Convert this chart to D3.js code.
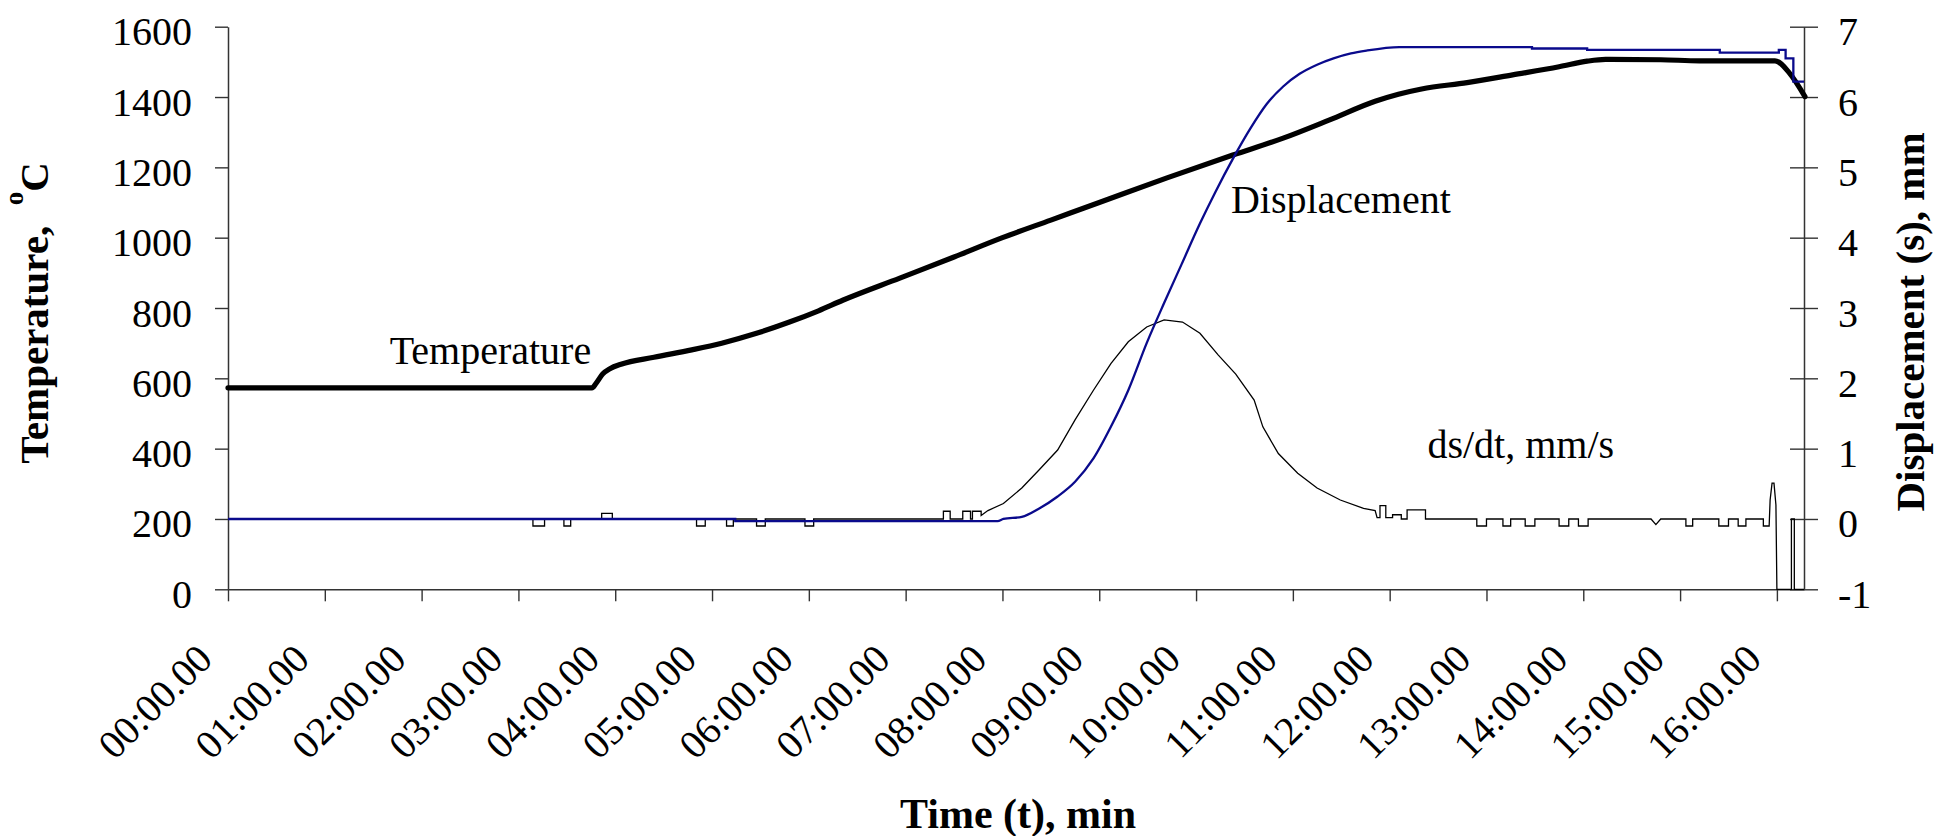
<!DOCTYPE html>
<html>
<head>
<meta charset="utf-8">
<script src="https://cdn.jsdelivr.net/npm/d3@7/dist/d3.min.js"></script>
<style>
  html, body { margin: 0; padding: 0; background: #fff; }
  svg { display: block; }
  text { font-family: "Liberation Serif", "Times New Roman", serif; fill: #000; }
</style>
</head>
<body>
<svg id="chart" width="1939" height="836"></svg>
<script>
// ---------------- data (time in minutes) ----------------
const timeTickValues = [0,1,2,3,4,5,6,7,8,9,10,11,12,13,14,15,16];
const timeTickLabels = ["00:00.00","01:00.00","02:00.00","03:00.00","04:00.00","05:00.00",
  "06:00.00","07:00.00","08:00.00","09:00.00","10:00.00","11:00.00","12:00.00",
  "13:00.00","14:00.00","15:00.00","16:00.00"];
const tempTicks = [0,200,400,600,800,1000,1200,1400,1600];
const dispTicks = [-1,0,1,2,3,4,5,6,7];

// Temperature, °C (left axis)
const tempTime  = [0, 3.76, 3.80, 3.87, 3.95, 4.06, 4.40, 4.79, 5.10, 5.46, 5.80, 6.10, 6.35, 6.94, 7.50,
  8.00, 8.50, 9.00, 9.70, 10.38, 10.90, 11.38, 11.85, 12.09, 12.33, 12.80, 13.27, 13.75,
  14.04, 14.23, 14.80, 15.20, 15.98, 16.13, 16.29];
const tempValue = [573, 573, 585, 612, 628, 640, 660, 681, 700, 728, 760, 792, 822, 885, 945,
  1000, 1050, 1100, 1170, 1235, 1283, 1335, 1388, 1408, 1423, 1441, 1463, 1486,
  1502, 1507, 1506, 1503, 1503, 1468, 1401];

// Displacement (s), mm (right axis)
const dispTime  = [0, 5.24, 5.24, 7.95, 8.01, 8.20, 8.38, 8.57, 8.75, 8.94, 9.12, 9.30, 9.49, 9.67, 9.85,
  10.04, 10.20, 10.38, 10.56, 10.73, 10.90, 11.07, 11.25, 11.42, 11.60, 11.76, 12.10,
  13.47, 13.47, 14.04, 14.04, 15.41, 15.41, 16.02, 16.02, 16.09, 16.09, 16.17, 16.17, 16.28];
const dispValue = [0, 0, -0.03, -0.03, 0, 0.03, 0.15, 0.32, 0.53, 0.86, 1.31, 1.83, 2.50, 3.07, 3.62,
  4.20, 4.65, 5.12, 5.55, 5.90, 6.15, 6.33, 6.46, 6.55, 6.62, 6.66, 6.71,
  6.71, 6.69, 6.69, 6.67, 6.67, 6.63, 6.63, 6.67, 6.67, 6.55, 6.55, 6.22, 6.22];

// ds/dt, mm/s (drawn against the right axis)
const rateTime  = [0, 3.15, 3.15, 3.27, 3.27, 3.47, 3.47, 3.54, 3.54, 3.86, 3.86, 3.97, 3.97,
  4.84, 4.84, 4.93, 4.93, 5.15, 5.15, 5.22, 5.22, 5.46, 5.46, 5.55, 5.55, 5.96, 5.96, 6.05, 6.05,
  7.39, 7.39, 7.46, 7.46, 7.59, 7.59, 7.67, 7.67, 7.69, 7.69, 7.78, 7.78,
  7.85, 8.01, 8.20, 8.38, 8.57, 8.75, 8.94, 9.12, 9.30, 9.49, 9.67, 9.86, 10.04, 10.23, 10.41, 10.60,
  10.69, 10.85, 11.05, 11.25, 11.49, 11.73, 11.85, 11.87, 11.90, 11.90, 11.96, 11.96, 12.03, 12.03,
  12.12, 12.12, 12.18, 12.18, 12.37, 12.37,
  12.90, 12.90, 13.00, 13.00, 13.17, 13.17, 13.25, 13.25, 13.40, 13.40, 13.50, 13.50,
  13.75, 13.75, 13.85, 13.85, 13.95, 13.95, 14.05, 14.05, 14.70, 14.75, 14.80,
  15.06, 15.06, 15.13, 15.13, 15.40, 15.40, 15.50, 15.50, 15.60, 15.60, 15.68, 15.68,
  15.86, 15.86, 15.92, 15.93, 15.95, 15.97, 15.99, 16.00, 16.15, 16.15, 16.18, 16.18, 16.28];
const rateValue = [0, 0, -0.1, -0.1, 0, 0, -0.1, -0.1, 0, 0, 0.08, 0.08, 0,
  0, -0.1, -0.1, 0, 0, -0.1, -0.1, 0, 0, -0.1, -0.1, 0, 0, -0.1, -0.1, 0,
  0, 0.11, 0.11, 0, 0, 0.11, 0.11, 0, 0, 0.11, 0.11, 0.05,
  0.12, 0.22, 0.44, 0.70, 0.98, 1.41, 1.83, 2.21, 2.52, 2.73, 2.83, 2.80, 2.64, 2.33, 2.06, 1.69,
  1.31, 0.93, 0.65, 0.44, 0.27, 0.15, 0.12, 0.02, 0.02, 0.19, 0.19, 0.02, 0.02, 0.06,
  0.06, 0.0, 0.0, 0.13, 0.13, 0,
  0, -0.1, -0.1, 0, 0, -0.1, -0.1, 0, 0, -0.1, -0.1, 0,
  0, -0.1, -0.1, 0, 0, -0.1, -0.1, 0, 0, -0.08, 0,
  0, -0.1, -0.1, 0, 0, -0.1, -0.1, 0, 0, -0.1, -0.1, 0,
  0, -0.1, -0.1, 0.27, 0.51, 0.51, 0.2, -1, -1, 0, 0, -1, -1];

const curveLabels = [
  {text: "Temperature", t: 1.67, axis: "L", v: 640},
  {text: "Displacement", t: 10.36, axis: "R", v: 4.35},
  {text: "ds/dt, mm/s", t: 12.39, axis: "R", v: 0.87}
];

(function () {
// ---------------- layout ----------------
const svg = d3.select("#chart");
const mLeft = 228, mRight = 1804, mTop = 26.7, mBottom = 589.3;
const x  = d3.scaleLinear().domain([0, 16.28]).range([mLeft, mRight]);
const yL = d3.scaleLinear().domain([0, 1600]).range([mBottom, mTop]);
const yR = d3.scaleLinear().domain([-1, 7]).range([mBottom, mTop]);
const axisColor = "#333";
const fs = 40;

// left axis
const gL = svg.append("g").attr("transform", `translate(${mLeft},0)`)
  .call(d3.axisLeft(yL).tickValues(tempTicks).tickSize(13).tickSizeOuter(0).tickPadding(23)
        .tickFormat(d => String(d)));
// right axis
const gR = svg.append("g").attr("transform", `translate(${mRight},0)`)
  .call(d3.axisRight(yR).tickValues(dispTicks).tickSize(14).tickSizeOuter(0).tickPadding(20)
        .tickFormat(d => String(d)));
gR.selectAll(".tick line").attr("x1", -14);
// bottom axis
const gB = svg.append("g").attr("transform", `translate(0,${mBottom})`)
  .call(d3.axisBottom(x).tickValues(timeTickValues).tickSize(12).tickSizeOuter(0)
        .tickFormat((d, i) => timeTickLabels[i]));
gB.selectAll(".tick text")
  .attr("x", 0).attr("y", 0).attr("dy", null)
  .attr("text-anchor", "end")
  .attr("transform", "translate(-14,72) rotate(-45)");

[gL, gR, gB].forEach(g => {
  g.selectAll("path.domain").attr("stroke", axisColor).attr("stroke-width", 1.5);
  g.selectAll(".tick line").attr("stroke", axisColor).attr("stroke-width", 1.4);
  g.selectAll(".tick text").attr("font-size", fs).attr("font-family", "Liberation Serif, serif").attr("fill", "#000");
});
gL.selectAll(".tick text").attr("dy", "0.45em");
gR.selectAll(".tick text").attr("dy", "0.45em");

// ---------------- series ----------------
const tempData = tempTime.map((t, i) => [t, tempValue[i]]);
const dispData = dispTime.map((t, i) => [t, dispValue[i]]);
const rateData = rateTime.map((t, i) => [t, rateValue[i]]);

svg.append("path").datum(tempData)
  .attr("fill", "none").attr("stroke", "#000").attr("stroke-width", 5.2)
  .attr("stroke-linejoin", "round").attr("stroke-linecap", "round")
  .attr("d", d3.line().curve(d3.curveMonotoneX).x(d => x(d[0])).y(d => yL(d[1])));

svg.append("path").datum(rateData)
  .attr("fill", "none").attr("stroke", "#000").attr("stroke-width", 1.3)
  .attr("d", d3.line().x(d => x(d[0])).y(d => yR(d[1])));

svg.append("path").datum(dispData)
  .attr("fill", "none").attr("stroke", "#0a0a8c").attr("stroke-width", 2.3)
  .attr("d", d3.line().curve(d3.curveMonotoneX).x(d => x(d[0])).y(d => yR(d[1])));

// curve labels
svg.selectAll("text.curve-label").data(curveLabels).enter().append("text")
  .attr("class", "curve-label")
  .attr("x", d => x(d.t))
  .attr("y", d => d.axis === "L" ? yL(d.v) : yR(d.v))
  .attr("font-size", fs)
  .text(d => d.text);

// ---------------- axis titles ----------------
svg.append("text")
  .attr("x", 1018).attr("y", 828)
  .attr("text-anchor", "middle").attr("font-weight", "bold").attr("font-size", 42)
  .text("Time (t), min");

const lt = svg.append("text")
  .attr("transform", "translate(48,313) rotate(-90)")
  .attr("text-anchor", "middle").attr("font-weight", "bold").attr("font-size", 41)
  .attr("xml:space", "preserve").style("white-space", "pre");
lt.append("tspan").text("Temperature,  ");
lt.append("tspan").attr("font-size", 27).attr("dy", -25).text("o");
lt.append("tspan").attr("dy", 25).text("C");

svg.append("text")
  .attr("transform", "translate(1924,322) rotate(-90)")
  .attr("text-anchor", "middle").attr("font-weight", "bold").attr("font-size", 41)
  .text("Displacement (s), mm");
})();
</script>
</body>
</html>
